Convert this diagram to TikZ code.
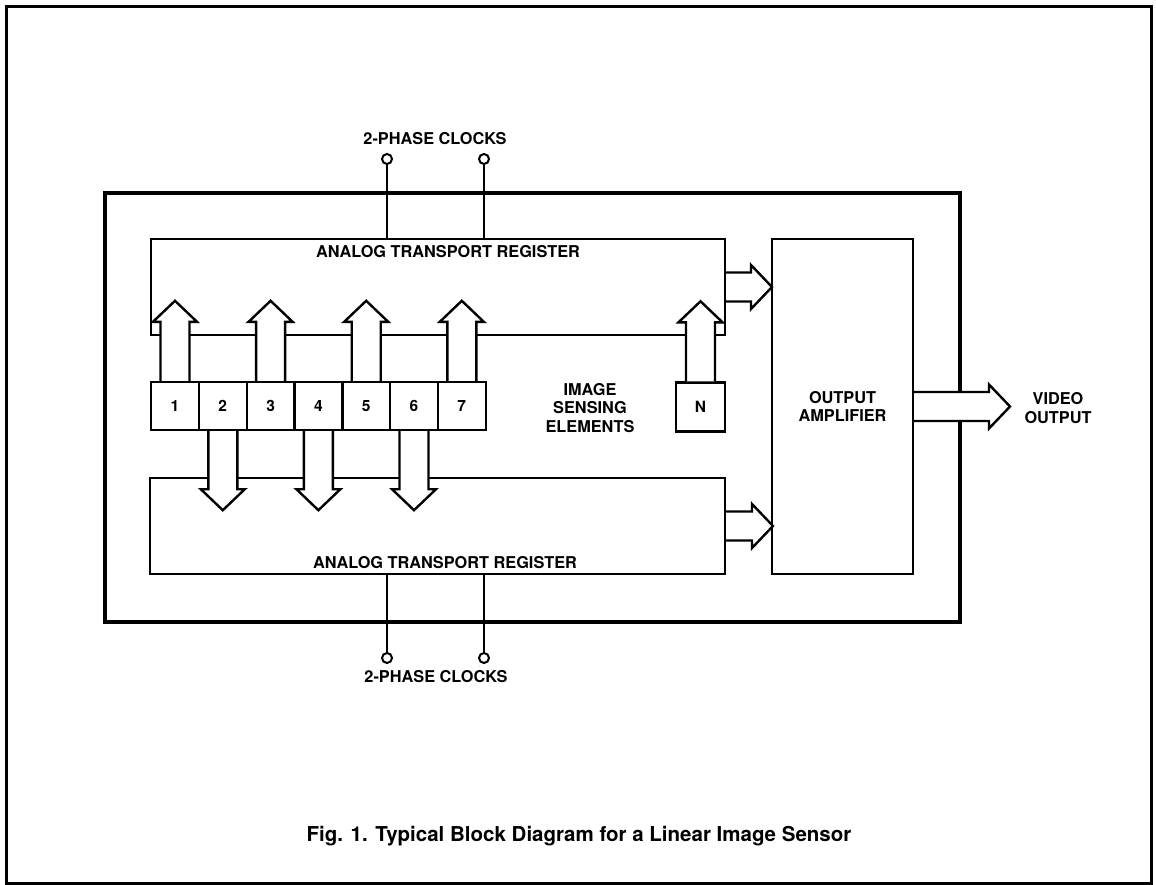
\documentclass[tikz,border=0pt]{standalone}
\usepackage{fontspec}
\setmainfont{TeX Gyre Heros}
\usetikzlibrary{positioning}
\tikzset{
  blk/.style={draw, line width=2pt, inner sep=0pt},
  cell/.style={draw, line width=2.4pt, minimum width=47.8pt, minimum height=48pt, inner sep=0pt, font=\bfseries\fontsize{15.5}{15.5}\selectfont},
  lbl/.style={font=\bfseries\fontsize{16.3}{18.5}\selectfont, align=center, inner sep=0pt},
  pin/.style={circle, draw, line width=2pt, fill=white, minimum size=10pt, inner sep=0pt},
  fat/.style={draw, line width=2.4pt, fill=white, line join=miter},
  wire/.style={line width=2pt},
}
% hollow arrow: start, angle, length
\newcommand{\fatarrow}[3]{\draw[fat, shift={(#1)}, rotate=#2] (0,-14.5) -- (#3-21,-14.5) -- (#3-21,-22) -- (#3,0) -- (#3-21,22) -- (#3-21,14.5) -- (0,14.5)}

\begin{document}
\begin{tikzpicture}[x=1pt,y=-1pt]
\useasboundingbox (0,0) rectangle (1156,885);
\draw[line width=3pt] (6,7) rectangle (1151,883);
\node[draw, line width=4pt, minimum width=855pt, minimum height=429pt] (chip) at (532.5,407.5) {};
\node[blk, minimum width=574pt, minimum height=96pt] (ureg) at (438,287) {};
\node[blk, minimum width=575pt, minimum height=96pt] (lreg) at (437.5,526) {};
\node[blk, lbl, minimum width=141pt, minimum height=335pt] (amp) at (842.5,406.5) {OUTPUT\\AMPLIFIER};
\node[lbl] (utxt) at (448,252) {ANALOG TRANSPORT REGISTER};
\node[lbl] (ltxt) at (445,563) {ANALOG TRANSPORT REGISTER};
\node[lbl] (sense) at (590,408) {IMAGE\\SENSING\\ELEMENTS};
\node[lbl] (vid) at (1058,408) {VIDEO\\OUTPUT};

% sensing elements
\foreach \i in {1,...,7}
  \node[cell] (e\i) at ({175+47.8*(\i-1)},406) {\i};
\node[cell, minimum width=49pt, minimum height=49pt] (eN) at (700.5,407) {N};

% transfer arrows
\foreach \i in {1,3,5,7} \fatarrow{e\i.north}{90}{80};
\fatarrow{eN.north}{90}{80};
\foreach \i in {2,4,6} \fatarrow{e\i.south}{-90}{79};
\fatarrow{ureg.east}{0}{46};
\fatarrow{lreg.east}{0}{47};
\fatarrow{amp.east}{0}{96};

% clocks
\node[pin] (c1) at (387,159) {};
\node[pin] (c2) at (484,159) {};
\node[pin] (c3) at (387,658) {};
\node[pin] (c4) at (484,658) {};
\draw[wire] (c1) -- (c1 |- ureg.north);
\draw[wire] (c2) -- (c2 |- ureg.north);
\draw[wire] (c3) -- (c3 |- lreg.south);
\draw[wire] (c4) -- (c4 |- lreg.south);
\node[lbl] (clkt) at (435,139) {2-PHASE CLOCKS};
\node[lbl] (clkb) at (436,677) {2-PHASE CLOCKS};

\node[font=\bfseries\fontsize{20.5}{20.5}\selectfont] (cap) at (579,836) {Fig. 1. Typical Block Diagram for a Linear Image Sensor};
\end{tikzpicture}
\end{document}
